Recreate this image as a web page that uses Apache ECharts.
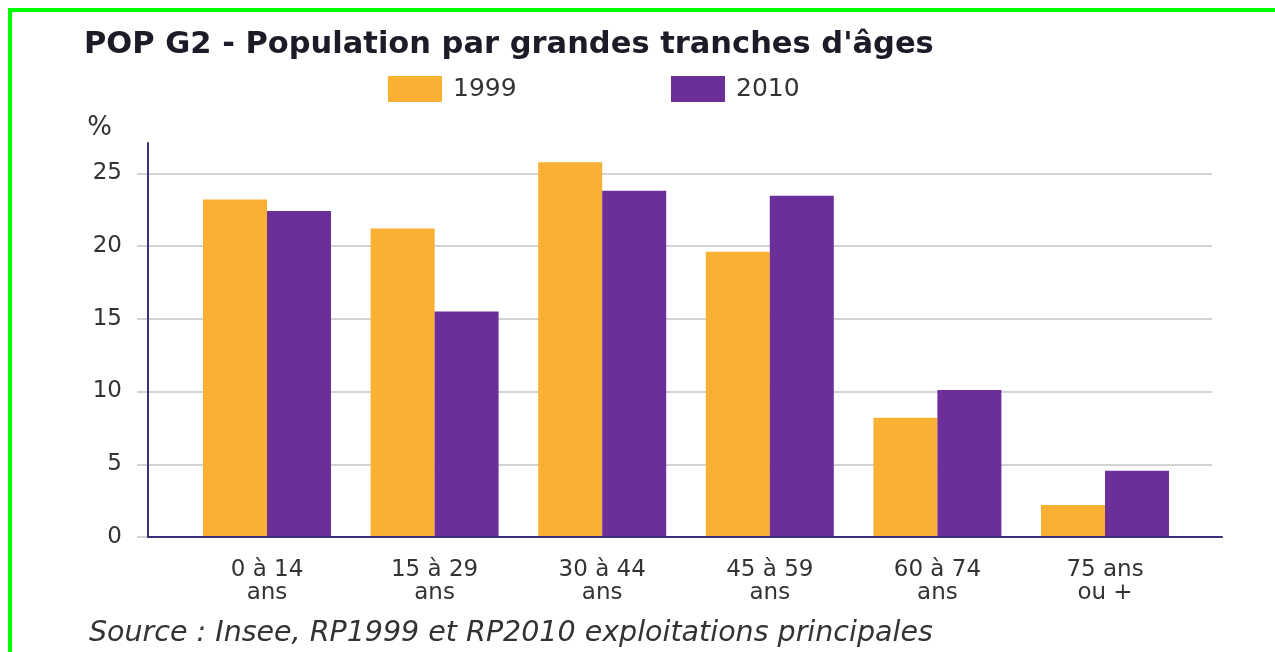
<!DOCTYPE html>
<html>
<head>
<meta charset="utf-8">
<script src="https://cdn.jsdelivr.net/npm/echarts@6/dist/echarts.min.js"></script>
<style>
  html, body { margin: 0; padding: 0; background: #ffffff; }
  #chart { position: absolute; left: 0; top: 0; width: 1275px; height: 652px; }
  #frame { position: absolute; left: 8px; top: 8px; width: 1275px; height: 660px;
           border-left: 4px solid #00ff00; border-top: 4px solid #00ff00; pointer-events: none; }
</style>
</head>
<body>
<div id="chart"></div>
<div id="frame"></div>
<script>
const titleText = "POP G2 - Population par grandes tranches d'âges";
const sourceText = "Source : Insee, RP1999 et RP2010 exploitations principales";
const categories = ["0 à 14\nans", "15 à 29\nans", "30 à 44\nans", "45 à 59\nans", "60 à 74\nans", "75 ans\nou +"];
const seriesNames = ["1999", "2010"];
const values1999 = [23.2, 21.2, 25.75, 19.6, 8.2, 2.2];
const values2010 = [22.4, 15.5, 23.8, 23.45, 10.1, 4.55];
const yTicks = [0, 5, 10, 15, 20, 25];
const yAxisTop = 27.08;

const FONT = "'DejaVu Sans', Verdana, sans-serif";
const ORANGE = '#FAB032';
const PURPLE = '#6C2E98';
const AXIS = '#3b2f7a';
const GRID = '#c4c4c4';
const TEXT = '#333333';

const chart = echarts.init(document.getElementById('chart'), null, { renderer: 'canvas' });

const option = {
  backgroundColor: '#ffffff',
  animation: false,
  title: [
    { text: titleText, left: 79, top: 25,
      textStyle: { fontFamily: FONT, fontSize: 30.5, fontWeight: 'bold', color: '#1c1c28' } },
    { text: sourceText, left: 84, top: 614,
      textStyle: { fontFamily: FONT, fontSize: 28.5, fontStyle: 'italic', fontWeight: 'normal', color: TEXT } }
  ],
  legend: [
    { data: [seriesNames[0]], left: 383, top: 71, itemWidth: 54, itemHeight: 26, icon: 'rect',
      textStyle: { fontFamily: FONT, fontSize: 25, color: TEXT, padding: [0, 0, 0, 6] } },
    { data: [seriesNames[1]], left: 666, top: 71, itemWidth: 54, itemHeight: 26, icon: 'rect',
      textStyle: { fontFamily: FONT, fontSize: 25, color: TEXT, padding: [0, 0, 0, 6] } }
  ],
  grid: [
    { left: 148, right: 53, top: 143, bottom: 115 },
    { left: 148, right: 63, top: 173.3, bottom: 115 },
    { left: 183.2, right: 86.2, top: 143, bottom: 115 }
  ],
  xAxis: [
    { gridIndex: 0, type: 'value', min: 0, max: 1, z: 5,
      axisLine: { show: true, lineStyle: { color: AXIS, width: 2 } },
      axisTick: { show: false }, axisLabel: { show: false }, splitLine: { show: false } },
    { gridIndex: 1, type: 'value', min: 0, max: 1, show: false },
    { gridIndex: 2, type: 'category', data: categories,
      axisLine: { show: false }, axisTick: { show: false }, splitLine: { show: false },
      axisLabel: { margin: 22, fontFamily: FONT, fontSize: 23, lineHeight: 23, color: TEXT } }
  ],
  yAxis: [
    { gridIndex: 0, type: 'value', min: 0, max: 1, z: 5,
      name: '%', nameLocation: 'end', nameGap: 2,
      nameTextStyle: { fontFamily: FONT, fontSize: 26, color: TEXT, align: 'right', padding: [0, 36, 0, 0] },
      axisLine: { show: true, lineStyle: { color: AXIS, width: 2 } },
      axisTick: { show: false }, axisLabel: { show: false }, splitLine: { show: false } },
    { gridIndex: 1, type: 'value', min: yTicks[0], max: yTicks[yTicks.length - 1], interval: 5,
      axisLine: { show: false },
      axisTick: { show: true, length: 11, lineStyle: { color: GRID, width: 1.5 } },
      axisLabel: { margin: 26, fontFamily: FONT, fontSize: 23, color: TEXT },
      splitLine: { show: true, lineStyle: { color: GRID, width: 1.5 } } },
    { gridIndex: 2, type: 'value', min: yTicks[0], max: yAxisTop, show: false }
  ],
  series: [
    { name: seriesNames[0], type: 'bar', xAxisIndex: 2, yAxisIndex: 2, data: values1999,
      barWidth: 64, barGap: '0%', itemStyle: { color: ORANGE } },
    { name: seriesNames[1], type: 'bar', xAxisIndex: 2, yAxisIndex: 2, data: values2010,
      barWidth: 64, barGap: '0%', itemStyle: { color: PURPLE } }
  ]
};
chart.setOption(option);
</script>
</body>
</html>
